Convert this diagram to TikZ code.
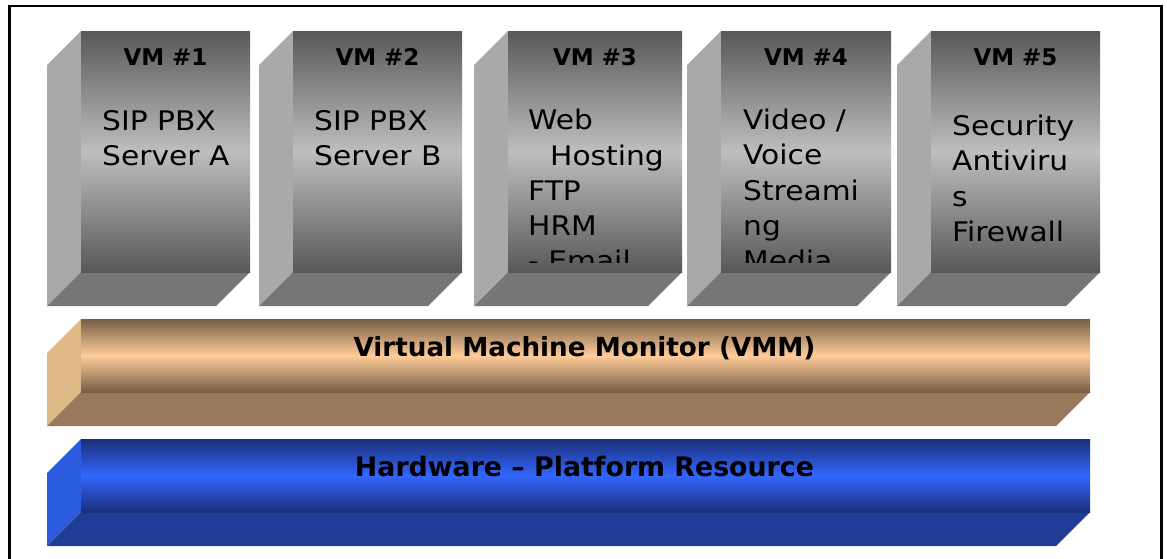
\documentclass[tikz,border=0pt]{standalone}
\usepackage{fontspec}
\setmainfont{DejaVu Sans}
\newfontfamily\bodyfont[FakeStretch=1.1]{DejaVu Sans}
\definecolor{vmdark}{HTML}{585858}
\definecolor{vmlight}{HTML}{BEBEBE}
\definecolor{vmside}{HTML}{A9A9A9}
\definecolor{vmbottom}{HTML}{767676}
\definecolor{vmmdark}{HTML}{765E45}
\definecolor{vmmlight}{HTML}{FFCC99}
\definecolor{vmmside}{HTML}{DEB887}
\definecolor{vmmbottom}{HTML}{977A5B}
\definecolor{hwdark}{HTML}{1A2F78}
\definecolor{hwlight}{HTML}{3366FF}
\definecolor{hwside}{HTML}{2D5DDF}
\definecolor{hwbottom}{HTML}{1F3D96}
\newcommand\drawvm[4]{%
  \fill[vmside] (#2-34,65) -- (#2,31) -- (#2,272) -- (#2-34,306) -- cycle;
  \fill[vmbottom] (#2,272) -- (#3,272) -- (#3-34,306) -- (#2-34,306) -- cycle;
  \shade[vmfront] (#2,31) rectangle (#3,272);
  \node[vmtitle] (#1-title) at ({(#2+#3)/2},65.5) {#4};
}
\begin{document}
\begin{tikzpicture}[x=1pt,y=-1pt,
  vmfront/.style={top color=vmdark, bottom color=vmdark, middle color=vmlight},
  vmtitle/.style={font=\fontsize{23}{23}\selectfont\bfseries, anchor=base, inner sep=0pt},
  bodytext/.style={font=\bodyfont\fontsize{27}{30}\selectfont, anchor=base west, inner sep=0pt},
  bartitle/.style={font=\fontsize{26.2}{26}\selectfont\bfseries, anchor=base, inner sep=0pt},
  frameline/.style={line width=2.5pt, line cap=rect}]
\useasboundingbox (0,0) rectangle (1167,558);
\fill[white] (0,0) rectangle (1167,558);

% VM boxes
\drawvm{vm1}{81}{250}{VM \#1}
\drawvm{vm2}{293}{462}{VM \#2}
\drawvm{vm3}{508}{682}{VM \#3}
\drawvm{vm4}{721}{891}{VM \#4}
\drawvm{vm5}{931}{1100}{VM \#5}

\begin{scope}
  \clip (81,31) rectangle (250,262);
  \node[bodytext] (vm1-l1) at (102,130) {SIP PBX};
  \node[bodytext] (vm1-l2) at (102,165) {Server A};
\end{scope}
\begin{scope}
  \clip (293,31) rectangle (462,262);
  \node[bodytext] (vm2-l1) at (314,130) {SIP PBX};
  \node[bodytext] (vm2-l2) at (314,165) {Server B};
\end{scope}
\begin{scope}
  \clip (508,31) rectangle (682,262);
  \node[bodytext] (vm3-l1) at (528,129.5) {Web};
  \node[bodytext] (vm3-l2) at (550,165) {Hosting};
  \node[bodytext] (vm3-l3) at (528,200) {FTP};
  \node[bodytext] (vm3-l4) at (528,235) {HRM};
  \node[bodytext] (vm3-l5) at (528,270) {- Email};
\end{scope}
\begin{scope}
  \clip (721,31) rectangle (891,262);
  \node[bodytext] (vm4-l1) at (743,129) {Video /};
  \node[bodytext] (vm4-l2) at (743,164.5) {Voice};
  \node[bodytext] (vm4-l3) at (743,200) {Streami};
  \node[bodytext] (vm4-l4) at (743,235) {ng};
  \node[bodytext] (vm4-l5) at (743,270.5) {Media};
\end{scope}
\begin{scope}
  \clip (931,31) rectangle (1100,262);
  \node[bodytext] (vm5-l1) at (952,135) {Security};
  \node[bodytext] (vm5-l2) at (952,170.5) {Antiviru};
  \node[bodytext] (vm5-l3) at (952,206) {s};
  \node[bodytext] (vm5-l4) at (952,241.5) {Firewall};
\end{scope}

% VMM bar
\fill[vmmside] (47,353) -- (81,319) -- (81,392) -- (47,426) -- cycle;
\fill[vmmbottom] (81,392) -- (1090,392) -- (1056,426) -- (47,426) -- cycle;
\shade[top color=vmmdark, bottom color=vmmdark, middle color=vmmlight] (81,319) rectangle (1090,392);
\node[bartitle] (vmm-label) at (584.5,356.7) {Virtual Machine Monitor (VMM)};

% Hardware bar
\fill[hwside] (47,473) -- (81,439) -- (81,512) -- (47,546) -- cycle;
\fill[hwbottom] (81,512) -- (1090,512) -- (1056,546) -- (47,546) -- cycle;
\shade[top color=hwdark, bottom color=hwdark, middle color=hwlight] (81,439) rectangle (1090,512);
\node[bartitle, font=\fontsize{26.8}{26}\selectfont\bfseries] (hw-label) at (584.5,476.7) {Hardware – Platform Resource};

% frame
\draw[frameline] (9.5,560) -- (9.5,6) -- (1161.5,6) -- (1161.5,560);
\end{tikzpicture}
\end{document}
